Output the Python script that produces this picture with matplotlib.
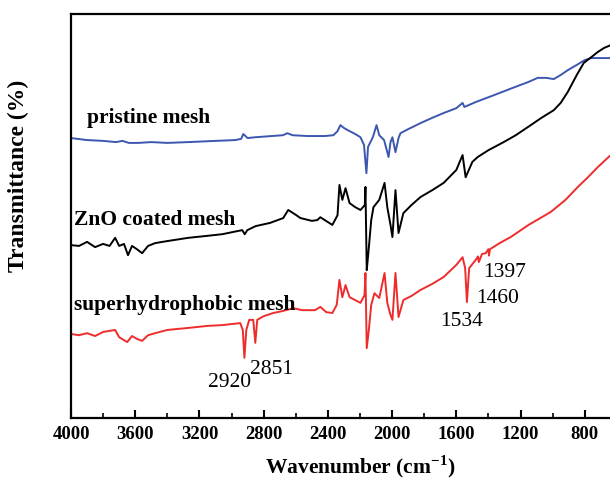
import matplotlib
matplotlib.use("Agg")
import matplotlib.pyplot as plt
from matplotlib.ticker import MultipleLocator, FixedLocator

plt.rcParams['font.family'] = ['Liberation Serif', 'DejaVu Serif']
plt.rcParams['mathtext.fontset'] = 'custom'
plt.rcParams['mathtext.rm'] = 'Liberation Serif'
plt.rcParams['mathtext.bf'] = 'Liberation Serif:bold'

# pristine mesh (blue)
wn_pristine = [4000, 3900, 3800, 3720, 3680, 3640, 3580, 3500, 3400, 3270, 3100, 2977,
               2940, 2927, 2900, 2852, 2750, 2680, 2653, 2620, 2528, 2420, 2366, 2340,
               2322, 2300, 2278, 2230, 2197, 2175, 2160, 2150, 2120, 2097, 2080, 2050,
               2022, 2010, 1998, 1979, 1960, 1948, 1900, 1823, 1750, 1679, 1600, 1561,
               1550, 1480, 1367, 1250, 1150, 1093, 1040, 993, 950, 906, 850, 800, 762,
               700, 638]
t_pristine = [69.3, 68.8, 68.6, 68.3, 68.6, 68.1, 68.1, 68.3, 68.1, 68.3, 68.6, 68.8,
              69.1, 70.3, 69.3, 69.5, 69.8, 70.0, 70.5, 70.0, 69.8, 69.8, 70.0, 71.0,
              72.5, 71.8, 71.3, 70.3, 69.5, 67.6, 60.6, 67.1, 69.5, 72.5, 70.0, 68.8,
              64.6, 68.3, 69.5, 65.8, 69.3, 70.5, 71.5, 73.0, 74.3, 75.5, 76.7, 78.0,
              77.0, 78.2, 79.9, 81.7, 83.2, 84.2, 84.2, 83.9, 84.9, 86.1, 87.4, 88.6, 89.1,
              89.1, 89.1]

# ZnO coated mesh (black)
wn_zno = [4000, 3950, 3900, 3850, 3800, 3760, 3725, 3700, 3670, 3645, 3620, 3590, 3557,
          3520, 3476, 3400, 3270, 3150, 3058, 2960, 2933, 2918, 2902, 2850, 2760, 2678,
          2647, 2600, 2571, 2500, 2466, 2447, 2400, 2372, 2340, 2328, 2310, 2290, 2265,
          2230, 2197, 2170, 2166, 2158, 2148, 2130, 2116, 2080, 2047, 2030, 2010, 1998,
          1979, 1960, 1930, 1880, 1823, 1750, 1679, 1600, 1561, 1542, 1500, 1467, 1400,
          1305, 1230, 1155, 1070, 993, 950, 906, 850, 806, 760, 719, 680, 638]
t_zno = [42.8, 42.6, 43.6, 42.3, 43.1, 42.6, 44.6, 42.6, 43.1, 40.3, 42.6, 41.8, 40.8,
         42.6, 43.3, 43.8, 44.6, 45.1, 45.5, 46.3, 46.5, 45.5, 46.5, 47.5, 48.3, 49.5,
         51.5, 50.3, 49.5, 48.8, 49.0, 49.7, 48.5, 47.8, 50.2, 57.7, 54.0, 56.9, 53.2,
         52.2, 51.5, 52.7, 57.2, 36.6, 40.8, 49.0, 52.2, 54.0, 58.2, 52.2, 47.8, 44.8,
         56.4, 45.8, 50.7, 52.7, 54.7, 56.4, 58.2, 61.4, 65.1, 59.6, 63.4, 64.6, 66.3,
         68.3, 70.0, 72.0, 74.3, 76.2, 78.0, 80.7, 84.9, 87.9, 89.3, 90.6, 91.6, 92.3]

# superhydrophobic mesh (red)
wn_super = [4000, 3950, 3900, 3850, 3800, 3725, 3700, 3650, 3620, 3590, 3557, 3520,
            3476, 3400, 3270, 3150, 3058, 2990, 2946, 2930, 2920, 2908, 2890, 2865,
            2852, 2840, 2800, 2740, 2680, 2615, 2560, 2480, 2447, 2410, 2372, 2345,
            2328, 2310, 2290, 2265, 2230, 2197, 2172, 2166, 2158, 2145, 2130, 2110,
            2080, 2047, 2030, 2010, 1998, 1979, 1960, 1930, 1880, 1823, 1750, 1679,
            1600, 1561, 1545, 1534, 1520, 1480, 1465, 1460, 1440, 1417, 1400, 1397,
            1390, 1330, 1261, 1150, 1012, 920, 843, 780, 719, 638]
t_super = [20.8, 20.5, 21.0, 20.3, 21.3, 21.8, 20.0, 18.8, 20.3, 19.6, 19.1, 20.5,
           21.0, 21.8, 22.3, 22.8, 23.0, 23.3, 23.5, 21.8, 14.9, 21.8, 24.3, 24.3,
           18.6, 24.3, 25.2, 26.0, 26.5, 27.2, 26.7, 26.7, 27.5, 26.2, 26.0, 28.0,
           34.2, 29.9, 32.9, 29.9, 29.2, 28.5, 30.4, 35.9, 17.3, 21.8, 28.0, 30.9,
           29.7, 35.9, 28.5, 25.5, 24.3, 35.9, 25.0, 29.2, 30.2, 31.7, 33.2, 34.9,
           37.9, 39.8, 37.1, 28.7, 37.1, 39.1, 40.0, 38.6, 40.6, 40.8, 41.8, 40.2,
           41.8, 43.3, 44.8, 47.8, 51.0, 54.0, 57.2, 59.6, 62.1, 65.1]

curve_labels = ['pristine mesh', 'ZnO coated mesh', 'superhydrophobic mesh']
peak_labels = ['2920', '2851', '1397', '1460', '1534']

fig = plt.figure(figsize=(6.10, 4.94), dpi=100)
ax = fig.add_axes([0.1164, 0.1538, 0.9475, 0.8178])

ax.plot(wn_pristine, t_pristine, color='#3d56b0', lw=1.4)
ax.plot(wn_zno, t_zno, color='black', lw=1.4)
ax.plot(wn_super, t_super, color='#ee2c2c', lw=1.4)

ax.set_xlim(4000, 400)
ax.set_ylim(0, 100)

# curve names
ax.text(3900, 74.3, curve_labels[0], fontsize=15.5, fontweight='bold', va='center')
ax.text(3981, 49.0, curve_labels[1], fontsize=15.5, fontweight='bold', va='center')
ax.text(3981, 28.0, curve_labels[2], fontsize=15.5, fontweight='bold', va='center')

# peak positions
peak_xy = [(3015, 8.9), (2753, 11.9), (1299, 35.9), (1342, 29.7), (1567, 23.8)]
for lab, (px, py) in zip(peak_labels, peak_xy):
    ax.text(px, py, lab, fontsize=15.5, ha='center', va='center')

ax.xaxis.set_major_locator(FixedLocator(list(range(800, 4001, 400))))
ax.xaxis.set_minor_locator(MultipleLocator(200))
ax.tick_params(axis='x', which='major', direction='in', length=6, width=1.5,
               labelsize=13.5, pad=6)
ax.tick_params(axis='x', which='minor', direction='in', length=3.5, width=1.2)
for lbl in ax.get_xticklabels():
    lbl.set_fontweight('bold')
ax.set_yticks([])
for sp in ax.spines.values():
    sp.set_linewidth(1.6)

ax.set_xlabel(r'Wavenumber (cm$^{\mathbf{-1}}$)', fontsize=15.5, fontweight='bold',
              labelpad=7)
ax.set_ylabel('Transmittance (%)', fontsize=17, fontweight='bold')
ax.yaxis.set_label_coords(-0.072, 0.6)

fig.savefig('out.png', dpi=100)
